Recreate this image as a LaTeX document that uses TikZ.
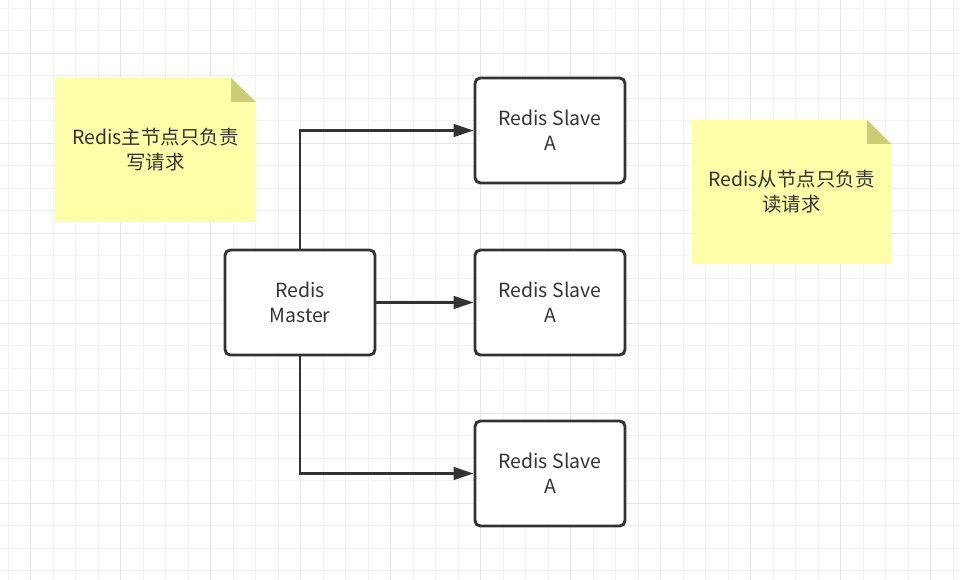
\documentclass[tikz,border=0pt]{standalone}
\usepackage{fontspec}
\setmainfont{Noto Sans CJK SC}
\usetikzlibrary{arrows.meta}

\definecolor{inkgray}{HTML}{333333}
\definecolor{gridminor}{HTML}{F2F2F2}
\definecolor{gridmajor}{HTML}{E6E6E6}
\definecolor{notefill}{HTML}{FFFFAA}
\definecolor{foldfill}{HTML}{CCCC77}

\tikzset{
  redisbox/.style={draw=inkgray, line width=2.2pt, rounded corners=4pt,
    fill=white, minimum width=112.5pt, minimum height=78.75pt,
    align=center, text=inkgray, font=\fontsize{14.6}{18.75}\selectfont},
  notetext/.style={align=center, text=inkgray,
    font=\fontsize{14.6}{18.75}\selectfont},
  link/.style={draw=inkgray, line width=1.8pt,
    -{Triangle[length=15pt, width=9.5pt]}},
}

\begin{document}
\begin{tikzpicture}[x=0.75pt, y=-0.75pt]

  \useasboundingbox (0,0) rectangle (960,580);
  \fill[white] (0,0) rectangle (960,580);

  % Raster
  \foreach \k in {0,...,42}
    \draw[gridminor, line width=0.8pt] (8.3+22.5*\k,0) -- (8.3+22.5*\k,580);
  \foreach \k in {0,...,25}
    \draw[gridminor, line width=0.8pt] (0,8.3+22.5*\k) -- (960,8.3+22.5*\k);
  \foreach \k in {0,...,10}
    \draw[gridmajor, line width=1pt] (30.8+90*\k,0) -- (30.8+90*\k,580);
  \foreach \k in {0,...,5}
    \draw[gridmajor, line width=1pt] (0,53.3+90*\k) -- (960,53.3+90*\k);

  % Notitie master
  \fill[notefill] (55,78) -- (231,78) -- (256,102) -- (256,222) -- (55,222) -- cycle;
  \fill[foldfill] (231,78) -- (231,102) -- (256,102) -- cycle;
  \node[notetext] (noteM) at (155.5,150) {Redis主节点只负责\\写请求};

  % Notitie slaves
  \fill[notefill] (692,120) -- (867,120) -- (891,144) -- (891,264) -- (692,264) -- cycle;
  \fill[foldfill] (867,120) -- (867,144) -- (891,144) -- cycle;
  \node[notetext] (noteS) at (791.5,192) {Redis从节点只负责\\读请求};

  % Master
  \node[redisbox] (master) at (300,302.5) {Redis\\Master};

  % Slaves
  \node[redisbox] (slaveA) at (550,130.5) {Redis Slave\\A};
  \node[redisbox] (slaveB) at (550,302.5) {Redis Slave\\A};
  \node[redisbox] (slaveC) at (550,473.5) {Redis Slave\\A};

  % Replicatie
  \draw[link] (master.north) |- (slaveA.west);
  \draw[link] (master.east) -- (slaveB.west);
  \draw[link] (master.south) |- (slaveC.west);

\end{tikzpicture}
\end{document}
